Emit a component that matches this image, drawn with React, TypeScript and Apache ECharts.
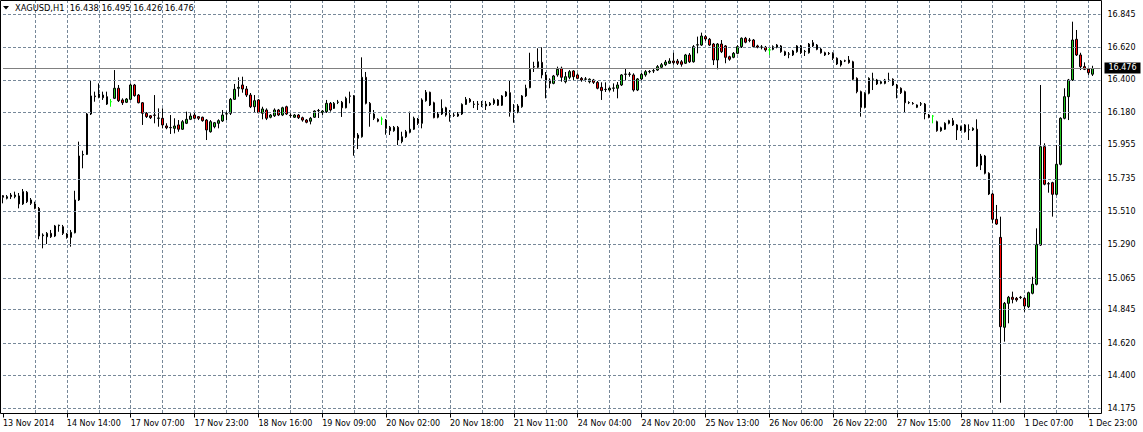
import React, { useEffect, useRef } from "react";
import * as echarts from "echarts";

const symbolTitle = "XAGUSD,H1  16.438 16.495 16.426 16.476";

// time-axis labels, one every 16 hourly bars
const timeLabels = [
  "13 Nov 2014", "14 Nov 14:00", "17 Nov 07:00", "17 Nov 23:00", "18 Nov 16:00",
  "19 Nov 09:00", "20 Nov 02:00", "20 Nov 18:00", "21 Nov 11:00", "24 Nov 04:00",
  "24 Nov 20:00", "25 Nov 13:00", "26 Nov 06:00", "26 Nov 22:00", "27 Nov 15:00",
  "28 Nov 11:00", "1 Dec 07:00", "1 Dec 23:00",
];
const LABEL_EVERY = 16;
const GRID_EVERY = 8;

// price-axis labels
const priceTicks = [
  "16.845", "16.620", "16.400", "16.180", "15.955", "15.735", "15.510",
  "15.290", "15.065", "14.845", "14.620", "14.400", "14.175",
];
const bidPrice = 16.476;
const Y_MIN = 14.1443;
const Y_MAX = 16.9396;

// hourly candles: [open, close, low, high]
const candles: number[][] = [
  [15.617, 15.606, 15.565, 15.621], [15.599, 15.610, 15.592, 15.621], [15.621, 15.610, 15.594, 15.635],
  [15.610, 15.621, 15.599, 15.644], [15.615, 15.561, 15.531, 15.635], [15.561, 15.644, 15.554, 15.662],
  [15.640, 15.576, 15.567, 15.648], [15.588, 15.565, 15.554, 15.601], [15.561, 15.531, 15.525, 15.576],
  [15.531, 15.344, 15.322, 15.540], [15.346, 15.351, 15.261, 15.362], [15.339, 15.362, 15.290, 15.371],
  [15.362, 15.339, 15.331, 15.385], [15.344, 15.412, 15.337, 15.419], [15.414, 15.417, 15.373, 15.421],
  [15.407, 15.362, 15.351, 15.419], [15.358, 15.335, 15.326, 15.364], [15.335, 15.369, 15.272, 15.385],
  [15.366, 15.588, 15.362, 15.650], [15.588, 15.885, 15.581, 15.982], [15.892, 15.895, 15.802, 15.921],
  [15.896, 16.169, 15.892, 16.176], [16.169, 16.291, 16.162, 16.394], [16.291, 16.286, 16.252, 16.320],
  [16.282, 16.304, 16.275, 16.376], [16.297, 16.279, 16.264, 16.320], [16.286, 16.236, 16.230, 16.320],
  [16.252, 16.252, 16.218, 16.270], [16.275, 16.343, 16.270, 16.466], [16.343, 16.259, 16.250, 16.365],
  [16.264, 16.245, 16.230, 16.275], [16.248, 16.270, 16.243, 16.277], [16.268, 16.365, 16.264, 16.376],
  [16.365, 16.293, 16.286, 16.372], [16.297, 16.245, 16.241, 16.304], [16.245, 16.174, 16.095, 16.250],
  [16.174, 16.151, 16.142, 16.182], [16.157, 16.144, 16.135, 16.162], [16.162, 16.160, 16.106, 16.297],
  [16.140, 16.142, 16.083, 16.207], [16.140, 16.095, 16.072, 16.207], [16.088, 16.076, 16.066, 16.106],
  [16.076, 16.078, 16.034, 16.162], [16.072, 16.088, 16.038, 16.140], [16.095, 16.066, 16.049, 16.128],
  [16.066, 16.117, 16.061, 16.128], [16.106, 16.133, 16.101, 16.185], [16.133, 16.155, 16.128, 16.174],
  [16.162, 16.140, 16.133, 16.178], [16.151, 16.140, 16.128, 16.155], [16.147, 16.124, 16.117, 16.151],
  [16.128, 16.061, 15.993, 16.135], [16.049, 16.117, 16.043, 16.128], [16.083, 16.110, 16.072, 16.115],
  [16.106, 16.124, 16.072, 16.133], [16.122, 16.162, 16.115, 16.196], [16.169, 16.171, 16.128, 16.185],
  [16.174, 16.268, 16.162, 16.277], [16.268, 16.336, 16.264, 16.372], [16.343, 16.349, 16.286, 16.417],
  [16.365, 16.338, 16.313, 16.421], [16.338, 16.297, 16.284, 16.358], [16.297, 16.218, 16.209, 16.311],
  [16.218, 16.259, 16.178, 16.297], [16.264, 16.178, 16.174, 16.270], [16.174, 16.203, 16.133, 16.218],
  [16.196, 16.140, 16.128, 16.207], [16.147, 16.162, 16.140, 16.169], [16.157, 16.196, 16.149, 16.207],
  [16.196, 16.162, 16.155, 16.203], [16.162, 16.211, 16.155, 16.218], [16.218, 16.169, 16.162, 16.225],
  [16.160, 16.158, 16.144, 16.174], [16.147, 16.162, 16.142, 16.169], [16.162, 16.144, 16.135, 16.169],
  [16.144, 16.128, 16.117, 16.151], [16.128, 16.113, 16.106, 16.135], [16.120, 16.140, 16.099, 16.149],
  [16.147, 16.189, 16.142, 16.194], [16.193, 16.191, 16.142, 16.203], [16.178, 16.189, 16.162, 16.196],
  [16.185, 16.241, 16.176, 16.264], [16.241, 16.196, 16.185, 16.250], [16.207, 16.241, 16.203, 16.250],
  [16.248, 16.250, 16.236, 16.264], [16.248, 16.211, 16.149, 16.257], [16.211, 16.275, 16.207, 16.286],
  [16.291, 16.289, 16.241, 16.320], [16.291, 16.009, 15.887, 16.297], [16.005, 16.027, 15.932, 16.040],
  [16.015, 16.417, 16.009, 16.552], [16.417, 16.241, 16.234, 16.453], [16.241, 16.174, 16.083, 16.250],
  [16.169, 16.140, 16.128, 16.196], [16.133, 16.120, 16.113, 16.140], [16.135, 16.135, 16.095, 16.151],
  [16.128, 16.072, 16.029, 16.135], [16.079, 16.056, 16.027, 16.088], [16.056, 16.079, 16.049, 16.088],
  [16.079, 15.993, 15.959, 16.088], [15.982, 16.015, 15.971, 16.049], [16.015, 16.049, 16.007, 16.061],
  [16.045, 16.066, 16.038, 16.185], [16.066, 16.140, 16.061, 16.151], [16.135, 16.106, 16.095, 16.142],
  [16.106, 16.264, 16.072, 16.275], [16.259, 16.316, 16.252, 16.331], [16.316, 16.230, 16.223, 16.320],
  [16.245, 16.144, 16.140, 16.252], [16.147, 16.169, 16.140, 16.182], [16.169, 16.207, 16.162, 16.268],
  [16.211, 16.162, 16.151, 16.218], [16.157, 16.159, 16.117, 16.196], [16.162, 16.160, 16.149, 16.178],
  [16.155, 16.169, 16.149, 16.182], [16.169, 16.234, 16.162, 16.241], [16.234, 16.268, 16.230, 16.284],
  [16.268, 16.252, 16.245, 16.277], [16.234, 16.236, 16.209, 16.257], [16.236, 16.234, 16.196, 16.257],
  [16.234, 16.236, 16.216, 16.257], [16.223, 16.236, 16.196, 16.257], [16.230, 16.241, 16.223, 16.250],
  [16.241, 16.264, 16.230, 16.275], [16.264, 16.228, 16.223, 16.270], [16.228, 16.291, 16.223, 16.297],
  [16.291, 16.318, 16.284, 16.324], [16.313, 16.185, 16.151, 16.394], [16.191, 16.193, 16.110, 16.236],
  [16.185, 16.223, 16.174, 16.236], [16.218, 16.291, 16.211, 16.297], [16.291, 16.343, 16.284, 16.367],
  [16.347, 16.471, 16.343, 16.583], [16.489, 16.487, 16.453, 16.522], [16.485, 16.522, 16.478, 16.613],
  [16.518, 16.433, 16.410, 16.620], [16.433, 16.399, 16.275, 16.453], [16.399, 16.376, 16.343, 16.410],
  [16.376, 16.426, 16.370, 16.433], [16.433, 16.471, 16.421, 16.489], [16.478, 16.417, 16.387, 16.489],
  [16.387, 16.421, 16.376, 16.453], [16.417, 16.455, 16.404, 16.466], [16.460, 16.421, 16.399, 16.466],
  [16.433, 16.410, 16.404, 16.444], [16.410, 16.399, 16.387, 16.419], [16.404, 16.406, 16.387, 16.419],
  [16.387, 16.404, 16.376, 16.410], [16.399, 16.383, 16.372, 16.406], [16.383, 16.343, 16.336, 16.392],
  [16.349, 16.327, 16.264, 16.383], [16.336, 16.334, 16.318, 16.383], [16.331, 16.343, 16.320, 16.354],
  [16.343, 16.345, 16.320, 16.376], [16.343, 16.365, 16.275, 16.385], [16.365, 16.433, 16.358, 16.439],
  [16.437, 16.439, 16.399, 16.478], [16.439, 16.437, 16.421, 16.453], [16.433, 16.331, 16.320, 16.444],
  [16.331, 16.406, 16.324, 16.412], [16.406, 16.437, 16.399, 16.446], [16.433, 16.455, 16.421, 16.466],
  [16.455, 16.457, 16.444, 16.466], [16.460, 16.462, 16.446, 16.473], [16.466, 16.489, 16.460, 16.500],
  [16.485, 16.502, 16.478, 16.514], [16.502, 16.520, 16.493, 16.534], [16.512, 16.527, 16.507, 16.546],
  [16.527, 16.516, 16.502, 16.583], [16.527, 16.512, 16.500, 16.541], [16.522, 16.505, 16.489, 16.534],
  [16.512, 16.568, 16.507, 16.575], [16.568, 16.522, 16.514, 16.581], [16.522, 16.624, 16.516, 16.635],
  [16.635, 16.637, 16.579, 16.692], [16.635, 16.696, 16.629, 16.719], [16.692, 16.676, 16.662, 16.703],
  [16.674, 16.635, 16.629, 16.683], [16.642, 16.534, 16.500, 16.649], [16.534, 16.642, 16.471, 16.649],
  [16.642, 16.590, 16.581, 16.669], [16.629, 16.552, 16.512, 16.635], [16.556, 16.539, 16.529, 16.563],
  [16.552, 16.579, 16.546, 16.588], [16.579, 16.624, 16.573, 16.635], [16.624, 16.681, 16.615, 16.687],
  [16.681, 16.654, 16.647, 16.690], [16.669, 16.667, 16.654, 16.683], [16.669, 16.624, 16.617, 16.676],
  [16.629, 16.620, 16.613, 16.637], [16.620, 16.622, 16.606, 16.635], [16.620, 16.602, 16.590, 16.629],
  [16.602, 16.602, 16.568, 16.620], [16.606, 16.624, 16.600, 16.633], [16.620, 16.635, 16.613, 16.642],
  [16.629, 16.590, 16.583, 16.635], [16.590, 16.568, 16.561, 16.597], [16.575, 16.573, 16.546, 16.588],
  [16.568, 16.595, 16.561, 16.602], [16.590, 16.629, 16.583, 16.635], [16.629, 16.583, 16.575, 16.635],
  [16.590, 16.592, 16.561, 16.602], [16.583, 16.642, 16.577, 16.649], [16.651, 16.629, 16.622, 16.669],
  [16.635, 16.606, 16.600, 16.642], [16.608, 16.583, 16.577, 16.615], [16.583, 16.568, 16.561, 16.590],
  [16.579, 16.577, 16.568, 16.588], [16.579, 16.546, 16.534, 16.586], [16.546, 16.507, 16.500, 16.552],
  [16.500, 16.527, 16.489, 16.534], [16.529, 16.527, 16.520, 16.536], [16.534, 16.516, 16.509, 16.561],
  [16.522, 16.404, 16.397, 16.529], [16.410, 16.320, 16.309, 16.417], [16.320, 16.214, 16.151, 16.327],
  [16.214, 16.309, 16.207, 16.316], [16.309, 16.410, 16.302, 16.417], [16.404, 16.406, 16.331, 16.448],
  [16.399, 16.372, 16.365, 16.406], [16.376, 16.387, 16.370, 16.397], [16.376, 16.399, 16.370, 16.406],
  [16.399, 16.397, 16.387, 16.448], [16.404, 16.365, 16.358, 16.410], [16.365, 16.343, 16.275, 16.372],
  [16.343, 16.313, 16.304, 16.349], [16.320, 16.245, 16.178, 16.327], [16.245, 16.247, 16.236, 16.255],
  [16.241, 16.239, 16.232, 16.250], [16.214, 16.230, 16.209, 16.234], [16.236, 16.238, 16.223, 16.250],
  [16.236, 16.169, 16.133, 16.243], [16.162, 16.147, 16.140, 16.169], [16.155, 16.155, 16.106, 16.162],
  [16.117, 16.056, 16.049, 16.124], [16.056, 16.076, 16.049, 16.083], [16.066, 16.106, 16.061, 16.113],
  [16.106, 16.124, 16.099, 16.130], [16.124, 16.095, 16.088, 16.142], [16.095, 16.061, 15.993, 16.101],
  [16.061, 16.083, 16.054, 16.090], [16.095, 16.049, 16.043, 16.101], [16.061, 16.063, 15.993, 16.099],
  [16.061, 16.072, 16.054, 16.079], [16.066, 15.817, 15.811, 16.133], [15.824, 15.885, 15.790, 15.899],
  [15.885, 15.768, 15.761, 15.892], [15.768, 15.628, 15.621, 15.775], [15.628, 15.457, 15.430, 15.635],
  [15.457, 15.425, 15.419, 15.554], [15.335, 14.731, 14.217, 15.475], [14.727, 14.889, 14.630, 14.898],
  [14.889, 14.930, 14.754, 14.939], [14.930, 14.916, 14.889, 14.968], [14.923, 14.912, 14.900, 14.932],
  [14.930, 14.928, 14.918, 14.939], [14.923, 14.871, 14.832, 14.932], [14.866, 14.961, 14.857, 14.968],
  [14.957, 15.018, 14.950, 15.069], [15.018, 15.288, 15.011, 15.396], [15.283, 15.948, 15.277, 16.365],
  [15.948, 15.694, 15.687, 15.971], [15.696, 15.698, 15.637, 15.709], [15.705, 15.626, 15.475, 15.711],
  [15.626, 15.829, 15.619, 15.959], [15.829, 16.140, 15.822, 16.147], [16.140, 16.286, 16.133, 16.343],
  [16.286, 16.399, 16.128, 16.406], [16.399, 16.669, 16.392, 16.793], [16.674, 16.568, 16.561, 16.737],
  [16.568, 16.489, 16.466, 16.583], [16.489, 16.471, 16.466, 16.518], [16.473, 16.448, 16.433, 16.480],
  [16.438, 16.476, 16.426, 16.495],
];

const categoryCount = candles.length + 2;
const categories = Array.from({ length: categoryCount }, (_, i) => String(i));

export default function App() {
  const ref = useRef<HTMLDivElement>(null);

  useEffect(() => {
    if (!ref.current) return;
    const chart = echarts.init(ref.current, null, { renderer: "svg" });
    const font = "DejaVu Sans";
    const gridColor = "#778899";

    chart.setOption({
      animation: false,
      backgroundColor: "#ffffff",
      grid: { left: 0.5, top: 0, width: (categoryCount - 1) * 4, height: 413.5, containLabel: false },
      xAxis: {
        type: "category",
        data: categories,
        boundaryGap: false,
        axisLine: { show: false },
        axisTick: {
          show: true,
          interval: (i: number) => i % LABEL_EVERY === 0,
          length: 4,
          lineStyle: { color: "#000000", width: 1 },
        },
        axisLabel: {
          interval: (i: number) => i % LABEL_EVERY === 0,
          formatter: (_v: string, i: number) => timeLabels[i / LABEL_EVERY] ?? "",
          align: "left",
          margin: 6,
          fontFamily: font,
          fontSize: 8,
          color: "#000000",
        },
        splitLine: {
          show: true,
          interval: (i: number) => i % GRID_EVERY === 0 && i > 0,
          lineStyle: { color: gridColor, type: [3, 2], width: 1 },
        },
      },
      yAxis: {
        type: "value",
        min: Y_MIN,
        max: Y_MAX,
        show: false,
        splitLine: { show: false },
      },
      series: [
        {
          type: "line",
          data: [],
          z: 1,
          silent: true,
          markLine: {
            silent: true,
            symbol: "none",
            animation: false,
            lineStyle: { color: gridColor, type: [3, 2], width: 1 },
            label: {
              show: true,
              position: "end",
              distance: 7,
              color: "#000000",
              fontFamily: font,
              fontSize: 8,
              formatter: (p: any) => p.name,
            },
            data: priceTicks.map((t) => ({ name: t, yAxis: Number(t) })),
          },
        },
        {
          type: "candlestick",
          data: candles,
          z: 2,
          barWidth: 2,
          itemStyle: {
            color: "#1FC41F",
            color0: "#FF0000",
            borderColor: "#000000",
            borderColor0: "#000000",
            borderColorDoji: "#00FF00",
            borderWidth: 1,
          },
        },
        {
          type: "line",
          data: [],
          z: 3,
          silent: true,
          markLine: {
            silent: true,
            symbol: "none",
            animation: false,
            lineStyle: { color: "#808080", type: "solid", width: 1 },
            label: {
              show: true,
              position: "end",
              distance: 4,
              backgroundColor: "#000000",
              color: "#ffffff",
              padding: [2, 4, 1, 4],
              fontFamily: font,
              fontSize: 8,
              formatter: () => bidPrice.toFixed(3),
            },
            data: [{ yAxis: bidPrice }],
          },
        },
      ],
      graphic: [
        {
          type: "rect",
          z: 100,
          silent: true,
          shape: { x: 0.5, y: 0.5, width: 1101, height: 413 },
          style: { fill: "none", stroke: "#000000", lineWidth: 1 },
        },
        {
          type: "polygon",
          z: 100,
          silent: true,
          shape: { points: [[3, 6], [9, 6], [6, 9.5]] },
          style: { fill: "#000000" },
        },
        {
          type: "text",
          z: 100,
          silent: true,
          x: 15,
          y: 8,
          style: {
            text: symbolTitle,
            fontFamily: font,
            fontSize: 8.3,
            fill: "#000000",
            verticalAlign: "middle",
          },
        },
      ],
    });

    return () => chart.dispose();
  }, []);

  return (
    <div
      ref={ref}
      style={{ position: "absolute", left: 0, top: 0, width: 1143, height: 432 }}
    />
  );
}
